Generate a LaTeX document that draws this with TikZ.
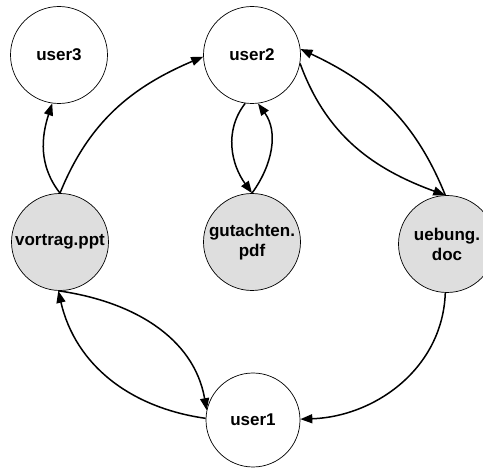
\documentclass[tikz,border=0pt]{standalone}
\usepackage{fontspec}
\setmainfont{Liberation Sans}
\usetikzlibrary{arrows.meta}
\begin{document}
\begin{tikzpicture}[x=1pt,y=-1pt,
  person/.style={circle,draw,line width=0.7pt,minimum size=97pt,inner sep=0pt,
    font=\fontsize{17}{20}\selectfont\bfseries,align=center},
  file/.style={person,fill=gray!26},
  link/.style={line width=1.5pt,-{Triangle[length=12pt,width=9pt]}}]
\useasboundingbox (0,0) rectangle (483,468);

% users and files
\node[person] (u3) at (59,55) {user3};
\node[person] (u2) at (252,55) {user2};
\node[file] (ppt) at (60,242) {vortrag.ppt};
\node[file] (pdf) at (252,242) {gutachten.\\pdf};
\node[file] (doc) at (447,244) {uebung.\\doc};
\node[person,minimum size=94pt] (u1) at (253,420) {user1};

% connections
\draw[link] (ppt.90) to[out=128,in=252] (u3.262);
\draw[link] (ppt.90) to[out=68,in=203] (u2.182);
\draw[link] (u2.262) to[out=232,in=126] (pdf.90);
\draw[link] (pdf.90) to[out=54,in=306] (u2.277);
\draw[link] (u2.350) to[out=290,in=160] (doc.92);
\draw[link] (doc.92) to[out=112,in=335] (u2.7);
\draw[link] (u1.178) to[out=172,in=283] (ppt.268);
\draw[link] (ppt.268) to[out=-8,in=100] (u1.168);
\draw[link] (doc.268) to[out=-92,in=2] (u1.1);
\end{tikzpicture}
\end{document}
